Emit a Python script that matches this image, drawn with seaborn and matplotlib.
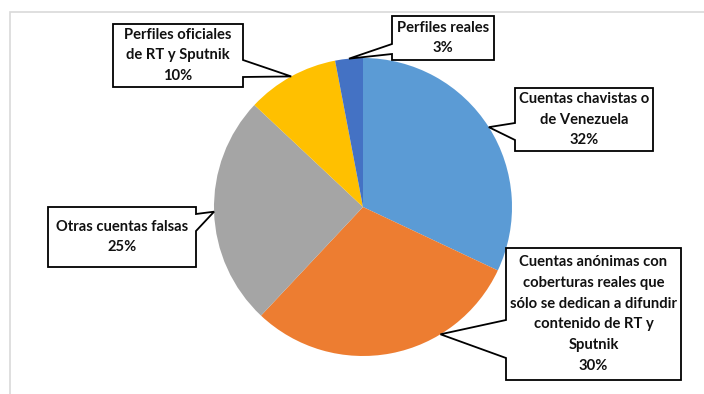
import numpy as np
import matplotlib
matplotlib.use("Agg")
import matplotlib.pyplot as plt
import seaborn as sns
from matplotlib.patches import Polygon, Rectangle

# ---- data ----
categories = [
    "Cuentas chavistas o\nde Venezuela",
    "Cuentas anónimas con\ncoberturas reales que\nsólo se dedican a difundir\ncontenido de RT y\nSputnik",
    "Otras cuentas falsas",
    "Perfiles oficiales\nde RT y Sputnik",
    "Perfiles reales",
]
values = [32, 30, 25, 10, 3]
colors = ["#5B9BD5", "#ED7D31", "#A5A5A5", "#FFC000", "#4472C4"]

# ---- layout (pixels, top-left origin) ----
W, H = 704, 394
# callout boxes: x0, y0, x1, y1
boxes = [
    (515, 88, 653, 151),
    (506, 248, 681, 380),
    (48, 207, 196, 267),
    (113, 24, 243, 87),
    (392, 16, 494, 60),
]
# side of box where pointer leaves, and base span along that side (pixels)
pointer_side = ["left", "left", "right", "right", "left"]
pointer_base = [(123, 140), (320, 358), (214, 231), (60, 77), (44, 54)]
tip_frac = [0.5, 0.31, 0.5, 0.5, 0.5]

sns.set_style("white")
plt.rcParams["font.family"] = ["Lato", "DejaVu Sans"]

fig = plt.figure(figsize=(W / 100, H / 100), dpi=100)
fig.patch.set_facecolor("white")

# chart border
fig.add_artist(Rectangle((10 / W, -0.1), 1.2, (H - 12) / H + 0.1,
                         transform=fig.transFigure, fill=False,
                         edgecolor="#D9D9D9", linewidth=1.2))

cx, cy, r = 363, 207, 149
ax = fig.add_axes([(cx - r) / W, 1 - (cy + r) / H, 2 * r / W, 2 * r / H])
wedges, _ = ax.pie(values, colors=colors, startangle=90, counterclock=False,
                   radius=1, wedgeprops=dict(linewidth=0))
ax.set_xlim(-1, 1)
ax.set_ylim(-1, 1)
ax.set_aspect("equal")
ax.axis("off")

fig.canvas.draw()
for i, w in enumerate(wedges):
    t1, t2 = w.theta1, w.theta2
    ang = np.deg2rad(t2 - tip_frac[i] * (t2 - t1))
    px, py = ax.transData.transform((w.r * np.cos(ang), w.r * np.sin(ang)))
    tip = (px, py)
    x0, y0, x1, y1 = boxes[i]
    b0, b1 = pointer_base[i]
    X0, X1 = x0, x1
    Yt, Yb = H - y0, H - y1
    B0, B1 = H - b0, H - b1
    if pointer_side[i] == "left":
        verts = [(X0, Yt), (X1, Yt), (X1, Yb), (X0, Yb), (X0, B1), tip, (X0, B0)]
    else:
        verts = [(X0, Yt), (X1, Yt), (X1, B0), tip, (X1, B1), (X1, Yb), (X0, Yb)]
    verts = [(vx / W, vy / H) for vx, vy in verts]
    fig.add_artist(Polygon(verts, closed=True, transform=fig.transFigure,
                           facecolor="white", edgecolor="black", linewidth=1.3,
                           joinstyle="miter"))
    fig.text((x0 + x1) / 2 / W, 1 - (y0 + y1) / 2 / H,
             f"{categories[i]}\n{values[i]}%", ha="center", va="center",
             multialignment="center", fontsize=10.6, fontweight="bold",
             color="#111111", linespacing=1.62)

fig.savefig("out.png", dpi=100, facecolor="white")
